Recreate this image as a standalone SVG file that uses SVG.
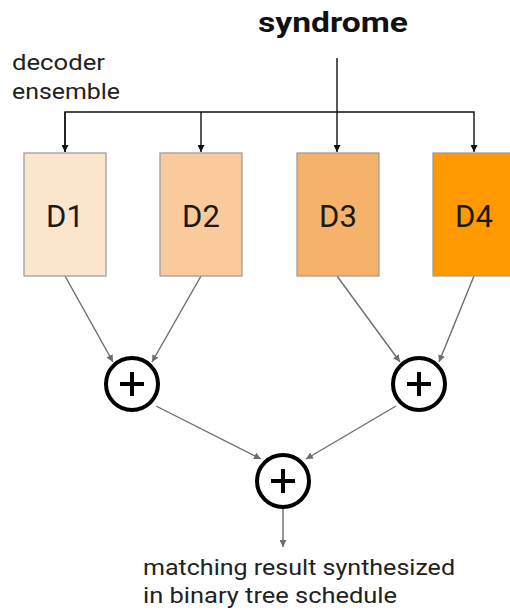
<svg xmlns="http://www.w3.org/2000/svg" width="510" height="610" viewBox="0 0 510 610">
<style>
.box{stroke:#9e9e9e;stroke-width:1.3}
.lbl{font-family:Roboto,"Liberation Sans",sans-serif;font-size:31px;fill:#1a1a1a;text-anchor:middle}
.txt{font-family:Roboto,"Liberation Sans",sans-serif;font-size:22px;fill:#222}
.top{stroke:#111;stroke-width:1.4;fill:none}
.low{stroke:#6d6d6d;stroke-width:1.4;fill:none}
.circ{fill:#fff;stroke:#000;stroke-width:4}
.plus{stroke:#000;stroke-width:4;fill:none}
</style>
<defs>
<marker id="ab" viewBox="0 0 10 10" refX="10" refY="5" markerWidth="7" markerHeight="7" orient="auto" markerUnits="userSpaceOnUse"><path d="M0,0 L10,5 L0,10 z" fill="#111"/></marker>
<marker id="ag" viewBox="0 0 10 10" refX="10" refY="5" markerWidth="7" markerHeight="7" orient="auto" markerUnits="userSpaceOnUse"><path d="M0,0 L10,5 L0,10 z" fill="#6d6d6d"/></marker>
</defs>
<rect width="510" height="610" fill="#fff"/>
<text x="258" y="32" font-family="Roboto,'Liberation Sans',sans-serif" font-size="28" font-weight="bold" fill="#111" textLength="150" lengthAdjust="spacingAndGlyphs">syndrome</text>
<text class="txt" x="12" y="70" textLength="93" lengthAdjust="spacingAndGlyphs">decoder</text>
<text class="txt" x="12" y="99" textLength="108" lengthAdjust="spacingAndGlyphs">ensemble</text>
<g id="connectors">
<line class="top" x1="337" y1="58" x2="337" y2="152" marker-end="url(#ab)"/>
<polyline class="top" points="65,152 65,112 474,112 474,152" marker-end="url(#ab)"/>
<line class="top" x1="65" y1="112" x2="65" y2="152" marker-end="url(#ab)"/>
<line class="top" x1="201" y1="112" x2="201" y2="152" marker-end="url(#ab)"/>
<line class="low" x1="65" y1="276" x2="113" y2="362" marker-end="url(#ag)"/>
<line class="low" x1="201" y1="276" x2="152" y2="362" marker-end="url(#ag)"/>
<line class="low" x1="337" y1="276" x2="400" y2="362" marker-end="url(#ag)"/>
<line class="low" x1="474" y1="276" x2="439" y2="362" marker-end="url(#ag)"/>
<line class="low" x1="156" y1="406" x2="261" y2="459" marker-end="url(#ag)"/>
<line class="low" x1="396" y1="406" x2="306" y2="459" marker-end="url(#ag)"/>
<line class="low" x1="283" y1="508" x2="283" y2="547" marker-end="url(#ag)"/>
</g>
<g id="D1"><rect class="box" x="24" y="153" width="82" height="123" fill="#fce5cd"/><text class="lbl" x="65" y="227">D1</text></g>
<g id="D2"><rect class="box" x="160" y="153" width="82" height="123" fill="#f9cb9c"/><text class="lbl" x="201" y="227">D2</text></g>
<g id="D3"><rect class="box" x="297" y="153" width="82" height="123" fill="#f6b26b"/><text class="lbl" x="338" y="227">D3</text></g>
<g id="D4"><rect class="box" x="433" y="153" width="82" height="123" fill="#ff9900"/><text class="lbl" x="474" y="227">D4</text></g>
<g id="sum1"><circle class="circ" cx="132" cy="384" r="26"/><path class="plus" d="M120,384 H144 M132,372 V396"/></g>
<g id="sum2"><circle class="circ" cx="419" cy="384" r="26"/><path class="plus" d="M407,384 H431 M419,372 V396"/></g>
<g id="sum3"><circle class="circ" cx="283" cy="481" r="26"/><path class="plus" d="M271,481 H295 M283,469 V493"/></g>
<text class="txt" x="143" y="575" textLength="312" lengthAdjust="spacingAndGlyphs">matching result synthesized</text>
<text class="txt" x="143" y="603" textLength="254" lengthAdjust="spacingAndGlyphs">in binary tree schedule</text>
</svg>
